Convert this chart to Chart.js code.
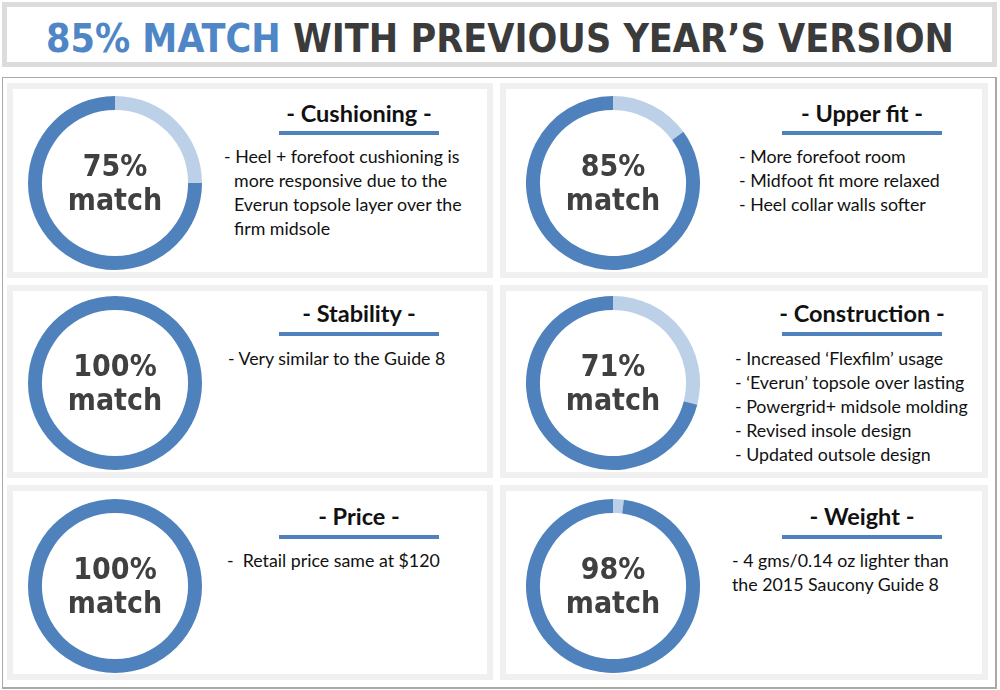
<!DOCTYPE html>
<html>
<head>
<meta charset="utf-8">
<script src="https://cdn.jsdelivr.net/npm/chart.js@4"></script>
<style>
    body { margin: 0; width: 1000px; height: 690px; background: #fff; position: relative; overflow: hidden; font-family: Lato, "Open Sans", sans-serif; }
    .title-box { position: absolute; left: 2px; top: 2px; width: 985px; height: 55px; border: 5px solid #dcdcdc; background: #fff; }
    .title { position: absolute; left: 0; right: 0; top: 14px; text-align: center; font-family: "DejaVu Sans Condensed", "DejaVu Sans", sans-serif; font-weight: bold; font-size: 40px; color: #3b3b3b; white-space: nowrap; line-height: 50px; }
    .title span { color: #4f86c6; }
    .panel { position: absolute; left: 2px; top: 77px; width: 992px; height: 609px; border: 1px solid #a9a9a9; border-right-width: 2px; border-bottom-width: 2px; }
    .card { position: absolute; box-sizing: border-box; border: 6px solid #f0f0f0; background: #fff; }
    .card canvas { position: absolute; }
    .heading { position: absolute; text-align: center; font-size: 23.5px; font-weight: bold; line-height: 30px; color: #111; white-space: nowrap; }
    .rule { position: absolute; height: 4px; background: #4f81bd; }
    .notes { position: absolute; margin: 0; padding: 0; list-style: none; font-size: 17.8px; line-height: 24px; color: #111; }
    .notes li { padding-left: 10px; text-indent: -10px; white-space: pre-wrap; }
    .notes.flat li { padding-left: 0; text-indent: 0; }
</style>
</head>
<body>
<div class="title-box"></div>
<div class="title" id="title"><span>85% MATCH</span> WITH PREVIOUS YEAR’S VERSION</div>
<div class="panel"></div>
<div id="cards"></div>
<script>
// data
const categories = ['Cushioning', 'Upper fit', 'Stability', 'Construction', 'Price', 'Weight'];
const matchValues = [75, 85, 100, 71, 100, 98];
const notes = [
    ['- Heel + forefoot cushioning is more responsive due to the Everun topsole layer over the firm midsole'],
    ['- More forefoot room', '- Midfoot fit more relaxed', '- Heel collar walls softer'],
    ['- Very similar to the Guide 8'],
    ['- Increased ‘Flexfilm’ usage', '- ‘Everun’ topsole over lasting', '- Powergrid+ midsole molding', '- Revised insole design', '- Updated outsole design'],
    ['-  Retail price same at $120'],
    ['- 4 gms/0.14 oz lighter than the 2015 Saucony Guide 8'],
];
const sliceLabels = ['Changed', 'Match'];
const sliceColors = ['#bcd0e8', '#4f81bd'];

// layout
const colX = [7, 500];
const colW = [486, 488];
const rowY = [83, 285, 485];
const rowH = [195, 193, 195];
const ringSize = 174;
const textLeft = [224, 739, 228, 735, 227, 732];
const textWidth = [252, 245, 252, 250, 252, 240];

// fit the title to the reference width
const title = document.getElementById('title');
(function fitTitle() {
    const range = document.createRange();
    range.selectNodeContents(title);
    const w = range.getBoundingClientRect().width;
    const size = 40 * 908 / w;
    title.style.fontSize = size.toFixed(2) + 'px';
})();

const centerText = {
    id: 'centerText',
    afterDraw(chart, args, opts) {
        const { ctx } = chart;
        const arc = chart.getDatasetMeta(0).data[0];
        const x = arc.x, y = arc.y;
        ctx.save();
        ctx.fillStyle = '#404040';
        ctx.textAlign = 'center';
        ctx.textBaseline = 'middle';
        ctx.font = 'bold 30px "DejaVu Sans Condensed", "DejaVu Sans", sans-serif';
        ctx.fillText(opts.value + '%', x, y - 15);
        ctx.fillText('match', x, y + 19);
        ctx.restore();
    },
};

const container = document.getElementById('cards');
categories.forEach((name, i) => {
    const col = i % 2;
    const row = Math.floor(i / 2);
    const card = document.createElement('div');
    card.className = 'card';
    card.style.left = colX[col] + 'px';
    card.style.top = rowY[row] + 'px';
    card.style.width = colW[col] + 'px';
    card.style.height = rowH[row] + 'px';

    // ring (positions relative to card padding box, border is 6px)
    const cx = (col === 0 ? 108 : 113) - 6;
    const cy = [100, 98, 101][row] - 6;
    const canvas = document.createElement('canvas');
    canvas.width = ringSize;
    canvas.height = ringSize;
    canvas.style.left = (cx - ringSize / 2) + 'px';
    canvas.style.top = (cy - ringSize / 2) + 'px';
    canvas.style.width = ringSize + 'px';
    canvas.style.height = ringSize + 'px';
    card.appendChild(canvas);

    const ruleLeft = (col === 0 ? 272 : 282) - 6;
    const heading = document.createElement('div');
    heading.className = 'heading';
    heading.style.left = (ruleLeft - 40) + 'px';
    heading.style.width = '240px';
    heading.style.top = ([30, 28, 31][row] - 6 - 15) + 'px';
    heading.textContent = '- ' + name + ' -';
    card.appendChild(heading);

    const rule = document.createElement('div');
    rule.className = 'rule';
    rule.style.left = ruleLeft + 'px';
    rule.style.width = '160px';
    rule.style.top = ([48, 47, 50][row] - 6) + 'px';
    card.appendChild(rule);

    const list = document.createElement('ul');
    list.className = 'notes' + (name === 'Weight' ? ' flat' : '');
    list.style.left = (textLeft[i] - colX[col] - 6) + 'px';
    list.style.width = textWidth[i] + 'px';
    list.style.top = ([74, 74, 76][row] - 6 - 13) + 'px';
    notes[i].forEach(t => {
        const li = document.createElement('li');
        li.textContent = t;
        list.appendChild(li);
    });
    card.appendChild(list);
    container.appendChild(card);

    new Chart(canvas.getContext('2d'), {
        type: 'doughnut',
        data: {
            labels: sliceLabels,
            datasets: [{
                data: [100 - matchValues[i], matchValues[i]],
                backgroundColor: sliceColors,
                borderWidth: 0,
            }],
        },
        options: {
            responsive: false,
            animation: false,
            cutout: '84%',
            plugins: {
                legend: { display: false },
                tooltip: { enabled: false },
                centerText: { value: matchValues[i] },
            },
        },
        plugins: [centerText],
    });
});
</script>
</body>
</html>
